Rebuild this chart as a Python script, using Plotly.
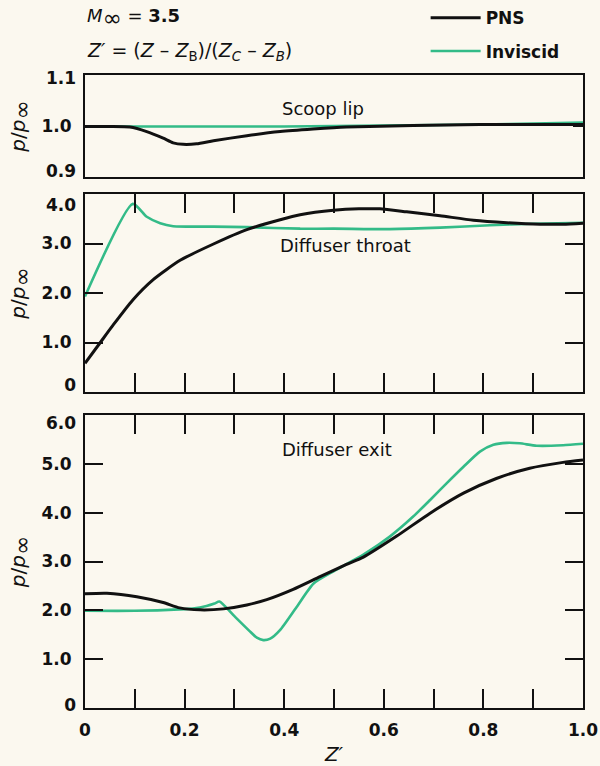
import plotly.graph_objects as go

# ---------------- data ----------------
# Scoop lip
lip_pns_z = [0, 0.05, 0.09, 0.124, 0.157, 0.177, 0.197, 0.224, 0.258, 0.325, 0.392, 0.458, 0.525, 0.659, 0.793, 0.9, 1.0]
lip_pns_p = [0.999, 0.999, 0.998, 0.989, 0.976, 0.967, 0.964, 0.965, 0.971, 0.981, 0.989, 0.994, 0.998, 1.001, 1.003, 1.003, 1.003]
lip_inv_z = [0, 0.3, 0.4, 0.5, 0.6, 0.7, 0.8, 0.9, 1.0]
lip_inv_p = [0.999, 0.999, 0.999, 1.000, 1.001, 1.002, 1.003, 1.005, 1.007]

# Diffuser throat
thr_pns_z = [0, 0.03, 0.057, 0.096, 0.137, 0.191, 0.258, 0.325, 0.392, 0.432, 0.499, 0.55, 0.592, 0.646, 0.713, 0.78, 0.847, 0.914, 0.96, 1.0]
thr_pns_p = [0.58, 0.99, 1.36, 1.86, 2.27, 2.66, 2.99, 3.28, 3.48, 3.58, 3.67, 3.70, 3.70, 3.64, 3.56, 3.47, 3.42, 3.39, 3.39, 3.41]
thr_inv_z = [0, 0.096, 0.124, 0.151, 0.177, 0.258, 0.325, 0.432, 0.499, 0.612, 0.713, 0.813, 0.9, 1.0]
thr_inv_p = [1.93, 3.80, 3.54, 3.41, 3.35, 3.34, 3.33, 3.30, 3.30, 3.29, 3.32, 3.37, 3.40, 3.42]

# Diffuser exit
ext_pns_z = [0, 0.044, 0.104, 0.157, 0.19, 0.231, 0.278, 0.325, 0.365, 0.418, 0.472, 0.525, 0.559, 0.626, 0.693, 0.76, 0.826, 0.893, 0.96, 1.0]
ext_pns_p = [2.34, 2.35, 2.28, 2.16, 2.05, 2.01, 2.03, 2.11, 2.22, 2.43, 2.69, 2.94, 3.09, 3.52, 3.99, 4.40, 4.70, 4.91, 5.03, 5.08]
ext_inv_z = [0, 0.1, 0.19, 0.22, 0.244, 0.26, 0.27, 0.30, 0.33, 0.345, 0.358, 0.372, 0.392, 0.425, 0.459, 0.499, 0.559, 0.612, 0.659, 0.693, 0.726, 0.76, 0.793, 0.82, 0.847, 0.873, 0.907, 0.96, 1.0]
ext_inv_p = [1.99, 1.99, 2.02, 2.04, 2.09, 2.14, 2.18, 1.88, 1.58, 1.44, 1.39, 1.42, 1.60, 2.07, 2.55, 2.80, 3.14, 3.51, 3.92, 4.26, 4.60, 4.94, 5.25, 5.39, 5.43, 5.42, 5.37, 5.38, 5.41]

# tick labels
x_tickvals = [0, 0.1, 0.2, 0.3, 0.4, 0.5, 0.6, 0.7, 0.8, 0.9, 1.0]
x_ticktext = ["0", "", "0.2", "", "0.4", "", "0.6", "", "0.8", "", "1.0"]
# interior ticks (drawn with tick marks)
lip_tickvals, lip_ticktext = [1.0], ["1.0"]
thr_tickvals, thr_ticktext = [1, 2, 3], ["1.0", "2.0", "3.0"]
ext_tickvals, ext_ticktext = [1, 2, 3, 4, 5], ["1.0", "2.0", "3.0", "4.0", "5.0"]
# end-of-range labels (set slightly inside the frame as in the print)
lip_end_vals, lip_end_text = [0.912, 1.094], ["0.9", "1.1"]
thr_end_vals, thr_end_text = [0.14, 3.78], ["0", "4.0"]
ext_end_vals, ext_end_text = [0.06, 5.84], ["0", "6.0"]

# ---------------- styling ----------------
BG = "#FBF8EF"
BLACK = "#111111"
GREEN = "#33BB88"
FONT = "DejaVu Sans"

fig = go.Figure()

def add(z, p, name, color, width, ax, show):
    fig.add_trace(go.Scatter(
        x=z, y=p, mode="lines", name=name,
        line=dict(color=color, width=width, shape="spline", smoothing=0.6),
        xaxis=ax[0], yaxis=ax[1], showlegend=show, legendgroup=name,
        legendrank=1 if name == "PNS" else 2,
    ))

# inviscid first so PNS is drawn on top
add(lip_inv_z, lip_inv_p, "Inviscid", GREEN, 2.6, ("x", "y"), False)
add(lip_pns_z, lip_pns_p, "PNS", BLACK, 3, ("x", "y"), False)
add(thr_inv_z, thr_inv_p, "Inviscid", GREEN, 2.6, ("x2", "y2"), False)
add(thr_pns_z, thr_pns_p, "PNS", BLACK, 3, ("x2", "y2"), False)
add(ext_inv_z, ext_inv_p, "Inviscid", GREEN, 2.6, ("x3", "y3"), True)
add(ext_pns_z, ext_pns_p, "PNS", BLACK, 3, ("x3", "y3"), True)

# empty carriers so the label-only overlay axes get drawn
for xa, ya in (("x", "y4"), ("x2", "y5"), ("x3", "y6")):
    fig.add_trace(go.Scatter(x=[None], y=[None], mode="lines", xaxis=xa, yaxis=ya,
                             showlegend=False, hoverinfo="skip"))

tickfont = dict(family=FONT, size=17, color=BLACK, weight="bold")
INF = "<sub><span style='font-size:23px'>∞</span></sub>"

def xaxis(anchor, ticks, labels):
    return dict(range=[0, 1], anchor=anchor, domain=[0, 1],
                showline=True, linecolor=BLACK, linewidth=2, mirror="ticks" if ticks else True,
                showgrid=False, zeroline=False,
                tickmode="array", tickvals=x_tickvals, ticktext=x_ticktext,
                ticks="inside" if ticks else "", ticklen=19, tickwidth=1.5, tickcolor=BLACK,
                showticklabels=labels, tickfont=tickfont, ticklabelstandoff=6)

def yaxis(anchor, dom, rng, vals, text, ticklen):
    return dict(range=rng, anchor=anchor, domain=dom,
                showline=True, linecolor=BLACK, linewidth=2, mirror="ticks",
                showgrid=False, zeroline=False,
                tickmode="array", tickvals=vals, ticktext=text,
                ticks="inside", ticklen=ticklen, tickwidth=1.5, tickcolor=BLACK,
                tickfont=tickfont, ticklabelstandoff=8,
                title=dict(text="<i>p</i>/<i>p</i>" + INF,
                           font=dict(family=FONT, size=20, color=BLACK), standoff=10))

def yend(over, anchor, rng, vals, text):
    return dict(range=rng, overlaying=over, anchor=anchor, side="left",
                showline=False, showgrid=False, zeroline=False,
                tickmode="array", tickvals=vals, ticktext=text, ticks="",
                tickfont=tickfont, ticklabelstandoff=8)

H_T, H_B = 75, 58
PH = 766 - H_T - H_B
def fy(px):
    return (708 - px) / PH

fig.update_layout(
    width=600, height=766,
    margin=dict(l=85, r=17, t=H_T, b=H_B, autoexpand=False),
    paper_bgcolor=BG, plot_bgcolor=BG,
    font=dict(family=FONT, color=BLACK),
    xaxis=xaxis("y", False, False),
    xaxis2=xaxis("y2", True, False),
    xaxis3=dict(xaxis("y3", True, True),
                title=dict(text="<i>Z′</i>", font=dict(family=FONT, size=20, color=BLACK), standoff=10)),
    yaxis=yaxis("x", [fy(177), 1.0], [0.9, 1.1], lip_tickvals, lip_ticktext, 10),
    yaxis2=yaxis("x2", [fy(392), fy(194)], [0, 4], thr_tickvals, thr_ticktext, 18),
    yaxis3=yaxis("x3", [0, fy(415)], [0, 6], ext_tickvals, ext_ticktext, 18),
    yaxis4=yend("y", "x", [0.9, 1.1], lip_end_vals, lip_end_text),
    yaxis5=yend("y2", "x2", [0, 4], thr_end_vals, thr_end_text),
    yaxis6=yend("y3", "x3", [0, 6], ext_end_vals, ext_end_text),
    legend=dict(x=0.684, y=1.118, xanchor="left", yanchor="top",
                bgcolor="rgba(0,0,0,0)", traceorder="grouped",
                font=dict(family=FONT, size=17, color=BLACK, weight="bold"),
                tracegroupgap=8, itemwidth=50),
    showlegend=True,
)

# header texts
fig.add_annotation(xref="paper", yref="paper", x=0, y=1 + (H_T - 18) / PH,
                   xanchor="left", yanchor="middle", showarrow=False,
                   text="<i>M</i>" + INF + " = <b>3.5</b>",
                   font=dict(family=FONT, size=18, color=BLACK))
fig.add_annotation(xref="paper", yref="paper", x=0, y=1 + (H_T - 51) / PH,
                   xanchor="left", yanchor="middle", showarrow=False,
                   text="<i>Z′</i> = (<i>Z</i> – <i>Z</i><sub>B</sub>)/(<i>Z<sub>C</sub></i> – <i>Z<sub>B</sub></i>)",
                   font=dict(family=FONT, size=19, color=BLACK))

# panel labels
lab = dict(showarrow=False, font=dict(family=FONT, size=18, color=BLACK))
fig.add_annotation(xref="x", yref="y", x=0.478, y=1.035, text="Scoop lip", **lab)
fig.add_annotation(xref="x2", yref="y2", x=0.524, y=2.95, text="Diffuser throat", **lab)
fig.add_annotation(xref="x3", yref="y3", x=0.506, y=5.30, text="Diffuser exit", **lab)

fig.write_html("out.html")
